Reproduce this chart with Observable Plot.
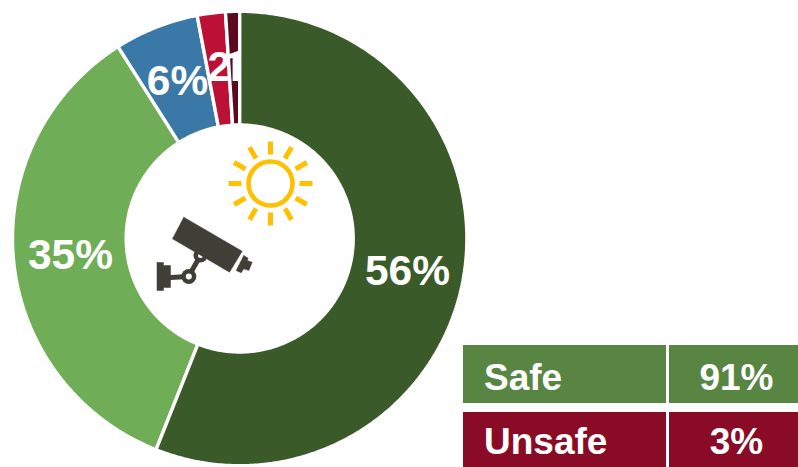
<!DOCTYPE html>
<html>
<head>
<meta charset="utf-8">
<script src="https://cdn.jsdelivr.net/npm/d3@7"></script>
<script src="https://cdn.jsdelivr.net/npm/@observablehq/plot@0.6"></script>
<style>
  html, body { margin: 0; padding: 0; background: #fff; overflow: hidden; }
</style>
</head>
<body>
<div id="chart"></div>
<script>
// Share of observations per rating, clockwise from twelve o'clock.
const sliceNames = ["Dark green", "Light green", "Blue", "Red", "Maroon"];
const sliceValues = [56, 35, 6, 2, 1];
const sliceColors = ["#3A5A2A", "#70AD57", "#3A78A8", "#BC1035", "#5C0A1E"];
const sliceLabels = ["56%", "35%", "6%", "2%", "1%"];

// Summary table below the ring.
const summaryNames = ["Safe", "Unsafe"];
const summaryValues = ["91%", "3%"];
const summaryColors = ["#588642", "#8A0B26"];

// Ring geometry, in the plot's coordinates.
const cx = 239.2, cy = 238, outer = 227.2, inner = 113.5;

const total = d3.sum(sliceValues);
const starts = d3.cumsum([0, ...sliceValues]);

function ringPoints(i) {
  const a0 = starts[i] / total * 2 * Math.PI;
  const a1 = starts[i + 1] / total * 2 * Math.PI;
  const steps = Math.max(4, Math.ceil((a1 - a0) / 0.01));
  const arc = d3.range(steps + 1).map(k => a0 + (a1 - a0) * k / steps);
  const pts = [
    ...arc.map(a => ({x: cx + outer * Math.sin(a), y: cy - outer * Math.cos(a)})),
    ...arc.reverse().map(a => ({x: cx + inner * Math.sin(a), y: cy - inner * Math.cos(a)}))
  ];
  pts.push(pts[0]);
  return pts;
}

const slice = i => Plot.line(ringPoints(i), {
  x: "x", y: "y", fill: sliceColors[i], stroke: "#fff", strokeWidth: 3.4, curve: "linear", strokeLinejoin: "miter"
});

// The "1" glyph needs a plain stem, so labels containing one use Roboto.
const arialLike = "'Liberation Sans', Arial, sans-serif";
const plainOne = "Roboto, Arial, sans-serif";

const labelAt = [
  {x: 407, y: 271, textAnchor: "middle", fontFamily: arialLike},
  {x: 70, y: 255, textAnchor: "middle", fontFamily: arialLike},
  {x: 177, y: 81, textAnchor: "middle", fontFamily: arialLike},
  {x: 207, y: 67, textAnchor: "start", fontFamily: arialLike},
  {x: 221.5, y: 67, textAnchor: "start", fontFamily: plainOne}
];
const sliceLabel = i => Plot.text([sliceLabels[i]], {
  x: labelAt[i].x, y: labelAt[i].y, text: d => d, textAnchor: labelAt[i].textAnchor,
  fontFamily: labelAt[i].fontFamily, fill: "#fff", fontSize: 42.5, fontWeight: 700
});

// Sun: ring plus twelve rays.
const sun = {x: 270, y: 183};
const rays = d3.range(12).map(k => {
  const a = k * Math.PI / 6;
  return {
    x1: sun.x + 29 * Math.sin(a), y1: sun.y - 29 * Math.cos(a),
    x2: sun.x + 42 * Math.sin(a), y2: sun.y - 42 * Math.cos(a)
  };
});

// Security camera pictogram.
const iconInk = "#3F3F38";
const cameraBody = [[183.3, 216.7], [241.7, 250.7], [229, 271.7], [172, 238.3]];
const cameraLens = [[243.3, 255], [247.7, 257.7], [246.7, 260], [251.7, 261.7], [248.3, 270], [243.3, 268.3], [240.7, 272.3], [235.7, 270]];
const mountPlate = [[156.5, 262], [163, 262], [163, 265], [170, 265], [170, 287], [163, 287], [163, 290], [156.5, 290]];
const mountArm = [[170, 277], [188, 276], [200, 255]];
const polygon = (pts, fill) => Plot.line([...pts, pts[0]], {x: d => d[0], y: d => d[1], fill, stroke: fill, strokeWidth: 0.5});

const plot = Plot.plot({
  width: 798,
  height: 467,
  margin: 0,
  style: {fontFamily: arialLike, background: "#fff"},
  x: {domain: [0, 798], range: [0, 798], axis: null},
  y: {domain: [0, 467], range: [0, 467], axis: null},
  marks: [
    // Painted in layers: each later slice covers the overflow of the narrow labels before it.
    slice(1),
    sliceLabel(1),
    slice(2),
    sliceLabel(2),
    slice(3),
    sliceLabel(3),
    slice(4),
    sliceLabel(4),
    slice(0),
    sliceLabel(0),

    Plot.dot([sun], {x: "x", y: "y", r: 22, stroke: "#FFC000", strokeWidth: 4.6, fill: "none"}),
    Plot.link(rays, {x1: "x1", y1: "y1", x2: "x2", y2: "y2", stroke: "#FFC000", strokeWidth: 5, strokeLinecap: "butt"}),

    Plot.line(mountArm, {x: d => d[0], y: d => d[1], stroke: iconInk, strokeWidth: 5, curve: "linear"}),
    Plot.dot([[200, 255]], {x: d => d[0], y: d => d[1], r: 7, fill: iconInk}),
    Plot.dot([[200, 255]], {x: d => d[0], y: d => d[1], r: 2.5, fill: "#fff"}),
    polygon(cameraBody, iconInk),
    polygon(cameraLens, iconInk),
    polygon(mountPlate, iconInk),
    Plot.dot([[188.3, 276]], {x: d => d[0], y: d => d[1], r: 7.5, fill: iconInk}),
    Plot.dot([[188.3, 276]], {x: d => d[0], y: d => d[1], r: 3, fill: "#fff"}),

    // Summary table.
    Plot.rect(summaryNames, {x1: 463, x2: 666, y1: (d, i) => [345, 412][i], y2: (d, i) => [403, 467][i], fill: (d, i) => summaryColors[i]}),
    Plot.rect(summaryNames, {x1: 669, x2: 798, y1: (d, i) => [345, 412][i], y2: (d, i) => [403, 467][i], fill: (d, i) => summaryColors[i]}),
    Plot.text(summaryNames, {x: 483.5, y: (d, i) => [378, 442][i], text: d => d, textAnchor: "start", fill: "#fff", fontSize: 37, fontWeight: 700}),
    Plot.text(summaryValues, {x: 736, y: (d, i) => [378, 442][i], text: d => d, textAnchor: "middle", fill: "#fff", fontSize: 37, fontWeight: 700, fontFamily: (d) => d === "91%" ? plainOne : arialLike})
  ]
});

document.getElementById("chart").appendChild(plot);
</script>
</body>
</html>
